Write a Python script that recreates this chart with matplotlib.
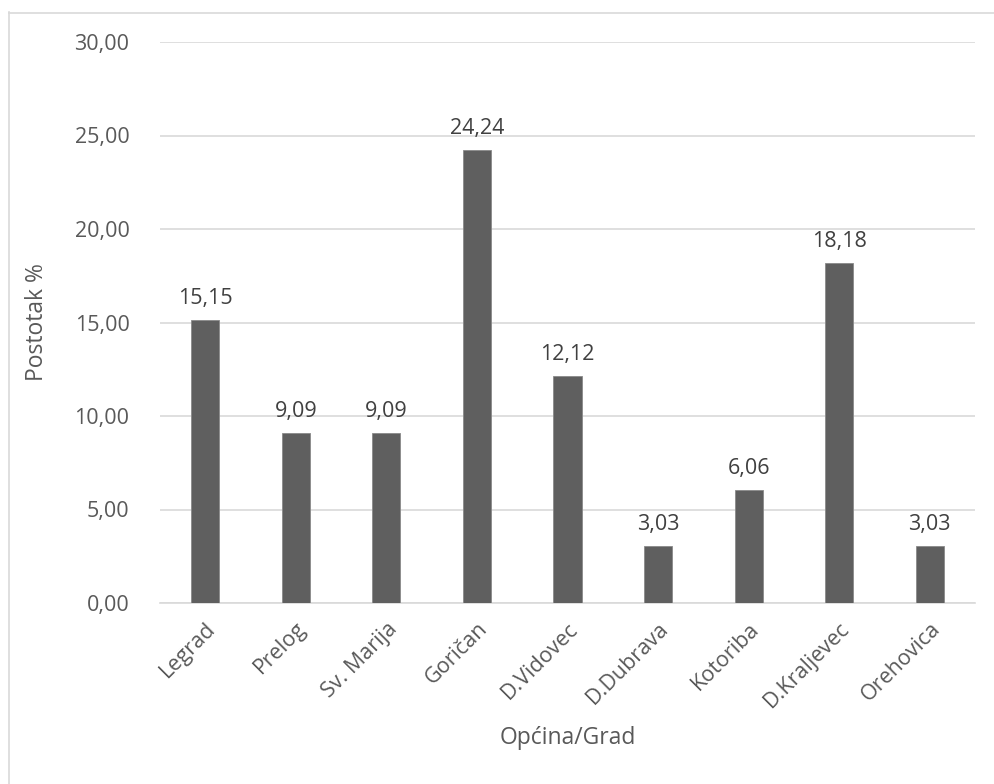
import matplotlib
matplotlib.use("Agg")
import matplotlib.pyplot as plt
from matplotlib.lines import Line2D

plt.rcParams['font.family'] = ['Open Sans', 'DejaVu Sans']

# data
places = ["Legrad", "Prelog", "Sv. Marija", "Goričan", "D.Vidovec",
          "D.Dubrava", "Kotoriba", "D.Kraljevec", "Orehovica"]
percent = [15.15, 9.09, 9.09, 24.24, 12.12, 3.03, 6.06, 18.18, 3.03]
yticks = [0, 5, 10, 15, 20, 25, 30]

txt = "#595959"
grid = "#d9d9d9"

W, H = 994, 784
fig = plt.figure(figsize=(W/100, H/100), dpi=100)

# outer chart border (only left and top visible in the picture)
fig.add_artist(Line2D([8.5/W, 8.5/W], [0, 1-12/H], transform=fig.transFigure, color=grid, lw=1.2))
fig.add_artist(Line2D([8.5/W, 1], [1-12.5/H, 1-12.5/H], transform=fig.transFigure, color=grid, lw=1.2))

ax = fig.add_axes([160/W, 1-603/H, (975-160)/W, (603-42)/H])

x = range(len(places))
bars = ax.bar(x, percent, width=0.31, color="#5f5f5f", edgecolor="#8a8a8a", linewidth=0.6, zorder=3)

for i, v in enumerate(percent):
    ax.annotate(("%.2f" % v).replace(".", ","), (i, v), xytext=(0, 8), textcoords="offset points",
                ha="center", va="bottom", fontsize=15.5, color="#404040")

ax.set_xlim(-0.5, len(places) - 0.5)
ax.set_ylim(0, 30)
ax.set_yticks(yticks)
ax.set_yticklabels([("%.2f" % t).replace(".", ",") for t in yticks], fontsize=15.5, color=txt)
ax.yaxis.grid(True, color=grid, lw=1.2, zorder=0)
ax.tick_params(axis="y", length=0, pad=22)
ax.tick_params(axis="x", length=0, pad=11)
ax.set_xticks(list(x))
ax.set_xticklabels(places, rotation=45, ha="right", rotation_mode="anchor", fontsize=15.5, color=txt)

for s in ["top", "right", "left"]:
    ax.spines[s].set_visible(False)
ax.spines["bottom"].set_color(grid)
ax.spines["bottom"].set_linewidth(1.2)

ax.set_ylabel("Postotak %", fontsize=16.5, color=txt, labelpad=18)
ax.set_xlabel("Općina/Grad", fontsize=16.5, color=txt, labelpad=10)

fig.savefig("out.png", dpi=100)
